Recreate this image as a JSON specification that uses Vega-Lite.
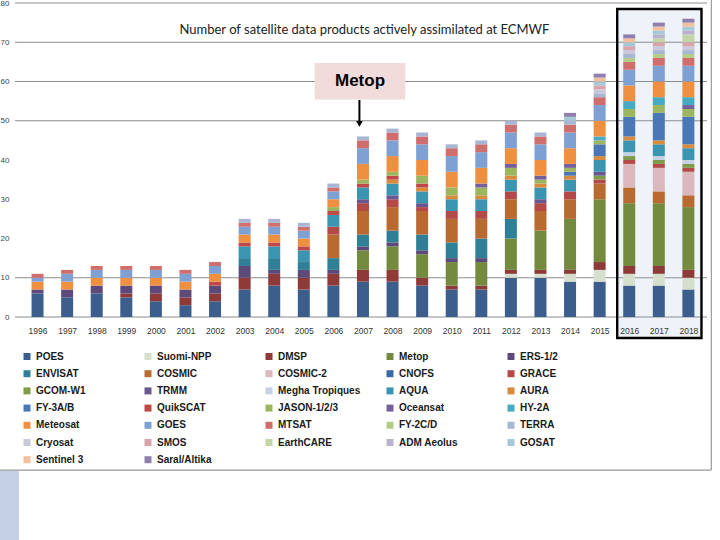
{
  "$schema": "https://vega.github.io/schema/vega-lite/v6.json",
  "width": 692,
  "height": 314,
  "autosize": {"type": "none"},
  "padding": {"left": 15, "top": 3, "right": 13, "bottom": 223},
  "background": "white",
  "config": {
    "view": {"stroke": null},
    "font": "Liberation Sans",
    "axisX": {"grid": false, "ticks": false, "domain": false, "labelPadding": 9, "labelFontSize": 8.5, "labelColor": "#333333", "labelOverlap": false, "labelFlush": false, "zindex": 2, "title": null},
    "axisY": {"grid": false, "ticks": false, "domain": false, "labelPadding": 6, "labelFontSize": 8, "labelColor": "#444444", "zindex": 2, "title": null}
  },
  "datasets": {
    "counts": [
      {"year":1996,"sat":"POES","n":6},{"year":1996,"sat":"ERS-1/2","n":1},{"year":1996,"sat":"Meteosat","n":2},{"year":1996,"sat":"GOES","n":1},{"year":1996,"sat":"MTSAT","n":1},
      {"year":1997,"sat":"POES","n":5},{"year":1997,"sat":"ERS-1/2","n":2},{"year":1997,"sat":"Meteosat","n":2},{"year":1997,"sat":"GOES","n":2},{"year":1997,"sat":"MTSAT","n":1},
      {"year":1998,"sat":"POES","n":6},{"year":1998,"sat":"ERS-1/2","n":2},{"year":1998,"sat":"Meteosat","n":2},{"year":1998,"sat":"GOES","n":2},{"year":1998,"sat":"MTSAT","n":1},
      {"year":1999,"sat":"POES","n":5},{"year":1999,"sat":"DMSP","n":1},{"year":1999,"sat":"ERS-1/2","n":2},{"year":1999,"sat":"Meteosat","n":2},{"year":1999,"sat":"GOES","n":2},{"year":1999,"sat":"MTSAT","n":1},
      {"year":2000,"sat":"POES","n":4},{"year":2000,"sat":"DMSP","n":2},{"year":2000,"sat":"ERS-1/2","n":2},{"year":2000,"sat":"Meteosat","n":2},{"year":2000,"sat":"GOES","n":2},{"year":2000,"sat":"MTSAT","n":1},
      {"year":2001,"sat":"POES","n":3},{"year":2001,"sat":"DMSP","n":2},{"year":2001,"sat":"ERS-1/2","n":2},{"year":2001,"sat":"Meteosat","n":2},{"year":2001,"sat":"GOES","n":2},{"year":2001,"sat":"MTSAT","n":1},
      {"year":2002,"sat":"POES","n":4},{"year":2002,"sat":"DMSP","n":2},{"year":2002,"sat":"ERS-1/2","n":2},{"year":2002,"sat":"QuikSCAT","n":1},{"year":2002,"sat":"Meteosat","n":2},{"year":2002,"sat":"GOES","n":2},{"year":2002,"sat":"MTSAT","n":1},
      {"year":2003,"sat":"POES","n":7},{"year":2003,"sat":"DMSP","n":3},{"year":2003,"sat":"ERS-1/2","n":3},{"year":2003,"sat":"ENVISAT","n":2},{"year":2003,"sat":"AQUA","n":3},{"year":2003,"sat":"QuikSCAT","n":1},{"year":2003,"sat":"Meteosat","n":2},{"year":2003,"sat":"GOES","n":2},{"year":2003,"sat":"MTSAT","n":1},{"year":2003,"sat":"TERRA","n":1},
      {"year":2004,"sat":"POES","n":8},{"year":2004,"sat":"DMSP","n":3},{"year":2004,"sat":"ERS-1/2","n":1},{"year":2004,"sat":"ENVISAT","n":3},{"year":2004,"sat":"AQUA","n":3},{"year":2004,"sat":"QuikSCAT","n":1},{"year":2004,"sat":"Meteosat","n":2},{"year":2004,"sat":"GOES","n":2},{"year":2004,"sat":"MTSAT","n":1},{"year":2004,"sat":"TERRA","n":1},
      {"year":2005,"sat":"POES","n":7},{"year":2005,"sat":"DMSP","n":3},{"year":2005,"sat":"ERS-1/2","n":2},{"year":2005,"sat":"ENVISAT","n":2},{"year":2005,"sat":"AQUA","n":3},{"year":2005,"sat":"QuikSCAT","n":1},{"year":2005,"sat":"Meteosat","n":2},{"year":2005,"sat":"GOES","n":2},{"year":2005,"sat":"MTSAT","n":1},{"year":2005,"sat":"TERRA","n":1},
      {"year":2006,"sat":"POES","n":8},{"year":2006,"sat":"DMSP","n":3},{"year":2006,"sat":"ERS-1/2","n":1},{"year":2006,"sat":"ENVISAT","n":3},{"year":2006,"sat":"COSMIC","n":6},{"year":2006,"sat":"GRACE","n":2},{"year":2006,"sat":"AQUA","n":3},{"year":2006,"sat":"QuikSCAT","n":1},{"year":2006,"sat":"JASON-1/2/3","n":1},{"year":2006,"sat":"Meteosat","n":2},{"year":2006,"sat":"GOES","n":2},{"year":2006,"sat":"MTSAT","n":1},{"year":2006,"sat":"TERRA","n":1},
      {"year":2007,"sat":"POES","n":9},{"year":2007,"sat":"DMSP","n":3},{"year":2007,"sat":"Metop","n":5},{"year":2007,"sat":"ERS-1/2","n":1},{"year":2007,"sat":"ENVISAT","n":3},{"year":2007,"sat":"COSMIC","n":6},{"year":2007,"sat":"GRACE","n":2},{"year":2007,"sat":"TRMM","n":1},{"year":2007,"sat":"AQUA","n":3},{"year":2007,"sat":"QuikSCAT","n":1},{"year":2007,"sat":"JASON-1/2/3","n":1},{"year":2007,"sat":"Meteosat","n":4},{"year":2007,"sat":"GOES","n":4},{"year":2007,"sat":"MTSAT","n":2},{"year":2007,"sat":"TERRA","n":1},
      {"year":2008,"sat":"POES","n":9},{"year":2008,"sat":"DMSP","n":3},{"year":2008,"sat":"Metop","n":6},{"year":2008,"sat":"ERS-1/2","n":1},{"year":2008,"sat":"ENVISAT","n":3},{"year":2008,"sat":"COSMIC","n":6},{"year":2008,"sat":"GRACE","n":2},{"year":2008,"sat":"TRMM","n":1},{"year":2008,"sat":"AQUA","n":3},{"year":2008,"sat":"AURA","n":1},{"year":2008,"sat":"QuikSCAT","n":1},{"year":2008,"sat":"JASON-1/2/3","n":1},{"year":2008,"sat":"Meteosat","n":4},{"year":2008,"sat":"GOES","n":4},{"year":2008,"sat":"MTSAT","n":2},{"year":2008,"sat":"TERRA","n":1},
      {"year":2009,"sat":"POES","n":8},{"year":2009,"sat":"DMSP","n":2},{"year":2009,"sat":"Metop","n":6},{"year":2009,"sat":"ERS-1/2","n":1},{"year":2009,"sat":"ENVISAT","n":4},{"year":2009,"sat":"COSMIC","n":6},{"year":2009,"sat":"GRACE","n":1},{"year":2009,"sat":"TRMM","n":1},{"year":2009,"sat":"AQUA","n":3},{"year":2009,"sat":"AURA","n":1},{"year":2009,"sat":"QuikSCAT","n":1},{"year":2009,"sat":"JASON-1/2/3","n":2},{"year":2009,"sat":"Meteosat","n":4},{"year":2009,"sat":"GOES","n":4},{"year":2009,"sat":"MTSAT","n":2},{"year":2009,"sat":"TERRA","n":1},
      {"year":2010,"sat":"POES","n":7},{"year":2010,"sat":"DMSP","n":1},{"year":2010,"sat":"Metop","n":6},{"year":2010,"sat":"ERS-1/2","n":1},{"year":2010,"sat":"ENVISAT","n":4},{"year":2010,"sat":"COSMIC","n":6},{"year":2010,"sat":"GRACE","n":2},{"year":2010,"sat":"AQUA","n":3},{"year":2010,"sat":"AURA","n":1},{"year":2010,"sat":"JASON-1/2/3","n":2},{"year":2010,"sat":"Meteosat","n":4},{"year":2010,"sat":"GOES","n":4},{"year":2010,"sat":"MTSAT","n":2},{"year":2010,"sat":"TERRA","n":1},
      {"year":2011,"sat":"POES","n":7},{"year":2011,"sat":"DMSP","n":1},{"year":2011,"sat":"Metop","n":6},{"year":2011,"sat":"ERS-1/2","n":1},{"year":2011,"sat":"ENVISAT","n":5},{"year":2011,"sat":"COSMIC","n":5},{"year":2011,"sat":"GRACE","n":2},{"year":2011,"sat":"AQUA","n":3},{"year":2011,"sat":"AURA","n":1},{"year":2011,"sat":"JASON-1/2/3","n":2},{"year":2011,"sat":"Oceansat","n":1},{"year":2011,"sat":"Meteosat","n":4},{"year":2011,"sat":"GOES","n":4},{"year":2011,"sat":"MTSAT","n":2},{"year":2011,"sat":"TERRA","n":1},
      {"year":2012,"sat":"POES","n":10},{"year":2012,"sat":"Suomi-NPP","n":1},{"year":2012,"sat":"DMSP","n":1},{"year":2012,"sat":"Metop","n":8},{"year":2012,"sat":"ENVISAT","n":5},{"year":2012,"sat":"COSMIC","n":5},{"year":2012,"sat":"GRACE","n":2},{"year":2012,"sat":"AQUA","n":3},{"year":2012,"sat":"AURA","n":1},{"year":2012,"sat":"JASON-1/2/3","n":2},{"year":2012,"sat":"Oceansat","n":1},{"year":2012,"sat":"Meteosat","n":4},{"year":2012,"sat":"GOES","n":4},{"year":2012,"sat":"MTSAT","n":2},{"year":2012,"sat":"TERRA","n":1},
      {"year":2013,"sat":"POES","n":10},{"year":2013,"sat":"Suomi-NPP","n":1},{"year":2013,"sat":"DMSP","n":1},{"year":2013,"sat":"Metop","n":10},{"year":2013,"sat":"COSMIC","n":5},{"year":2013,"sat":"GRACE","n":2},{"year":2013,"sat":"TRMM","n":1},{"year":2013,"sat":"AQUA","n":3},{"year":2013,"sat":"AURA","n":1},{"year":2013,"sat":"JASON-1/2/3","n":1},{"year":2013,"sat":"Oceansat","n":1},{"year":2013,"sat":"Meteosat","n":4},{"year":2013,"sat":"GOES","n":4},{"year":2013,"sat":"MTSAT","n":2},{"year":2013,"sat":"TERRA","n":1},
      {"year":2014,"sat":"POES","n":9},{"year":2014,"sat":"Suomi-NPP","n":2},{"year":2014,"sat":"DMSP","n":1},{"year":2014,"sat":"Metop","n":13},{"year":2014,"sat":"COSMIC","n":5},{"year":2014,"sat":"GRACE","n":2},{"year":2014,"sat":"AQUA","n":3},{"year":2014,"sat":"AURA","n":1},{"year":2014,"sat":"FY-3A/B","n":1},{"year":2014,"sat":"JASON-1/2/3","n":1},{"year":2014,"sat":"Oceansat","n":1},{"year":2014,"sat":"Meteosat","n":4},{"year":2014,"sat":"GOES","n":4},{"year":2014,"sat":"MTSAT","n":2},{"year":2014,"sat":"TERRA","n":1},{"year":2014,"sat":"GOSAT","n":1},{"year":2014,"sat":"Saral/Altika","n":1},
      {"year":2015,"sat":"POES","n":9},{"year":2015,"sat":"Suomi-NPP","n":3},{"year":2015,"sat":"DMSP","n":2},{"year":2015,"sat":"Metop","n":16},{"year":2015,"sat":"COSMIC","n":4},{"year":2015,"sat":"GRACE","n":1},{"year":2015,"sat":"GCOM-W1","n":1},{"year":2015,"sat":"TRMM","n":1},{"year":2015,"sat":"AQUA","n":3},{"year":2015,"sat":"AURA","n":1},{"year":2015,"sat":"FY-3A/B","n":3},{"year":2015,"sat":"JASON-1/2/3","n":1},{"year":2015,"sat":"HY-2A","n":1},{"year":2015,"sat":"Meteosat","n":4},{"year":2015,"sat":"GOES","n":4},{"year":2015,"sat":"MTSAT","n":2},{"year":2015,"sat":"TERRA","n":1},{"year":2015,"sat":"Cryosat","n":1},{"year":2015,"sat":"SMOS","n":1},{"year":2015,"sat":"GOSAT","n":1},{"year":2015,"sat":"Sentinel 3","n":1},{"year":2015,"sat":"Saral/Altika","n":1},
      {"year":2016,"sat":"POES","n":8},{"year":2016,"sat":"Suomi-NPP","n":3},{"year":2016,"sat":"DMSP","n":2},{"year":2016,"sat":"Metop","n":16},{"year":2016,"sat":"COSMIC","n":4},{"year":2016,"sat":"COSMIC-2","n":6},{"year":2016,"sat":"GRACE","n":1},{"year":2016,"sat":"GCOM-W1","n":1},{"year":2016,"sat":"Megha Tropiques","n":1},{"year":2016,"sat":"AQUA","n":3},{"year":2016,"sat":"AURA","n":1},{"year":2016,"sat":"FY-3A/B","n":5},{"year":2016,"sat":"JASON-1/2/3","n":2},{"year":2016,"sat":"HY-2A","n":2},{"year":2016,"sat":"Meteosat","n":4},{"year":2016,"sat":"GOES","n":4},{"year":2016,"sat":"MTSAT","n":2},{"year":2016,"sat":"FY-2C/D","n":1},{"year":2016,"sat":"TERRA","n":1},{"year":2016,"sat":"Cryosat","n":1},{"year":2016,"sat":"SMOS","n":1},{"year":2016,"sat":"GOSAT","n":1},{"year":2016,"sat":"Sentinel 3","n":1},{"year":2016,"sat":"Saral/Altika","n":1},
      {"year":2017,"sat":"POES","n":8},{"year":2017,"sat":"Suomi-NPP","n":3},{"year":2017,"sat":"DMSP","n":2},{"year":2017,"sat":"Metop","n":16},{"year":2017,"sat":"COSMIC","n":3},{"year":2017,"sat":"COSMIC-2","n":6},{"year":2017,"sat":"GRACE","n":1},{"year":2017,"sat":"GCOM-W1","n":1},{"year":2017,"sat":"Megha Tropiques","n":1},{"year":2017,"sat":"AQUA","n":3},{"year":2017,"sat":"AURA","n":1},{"year":2017,"sat":"FY-3A/B","n":7},{"year":2017,"sat":"JASON-1/2/3","n":2},{"year":2017,"sat":"HY-2A","n":2},{"year":2017,"sat":"Meteosat","n":4},{"year":2017,"sat":"GOES","n":4},{"year":2017,"sat":"MTSAT","n":2},{"year":2017,"sat":"FY-2C/D","n":1},{"year":2017,"sat":"TERRA","n":1},{"year":2017,"sat":"Cryosat","n":1},{"year":2017,"sat":"SMOS","n":1},{"year":2017,"sat":"EarthCARE","n":1},{"year":2017,"sat":"ADM Aeolus","n":1},{"year":2017,"sat":"GOSAT","n":1},{"year":2017,"sat":"Sentinel 3","n":1},{"year":2017,"sat":"Saral/Altika","n":1},
      {"year":2018,"sat":"POES","n":7},{"year":2018,"sat":"Suomi-NPP","n":3},{"year":2018,"sat":"DMSP","n":2},{"year":2018,"sat":"Metop","n":16},{"year":2018,"sat":"COSMIC","n":3},{"year":2018,"sat":"COSMIC-2","n":6},{"year":2018,"sat":"GRACE","n":1},{"year":2018,"sat":"GCOM-W1","n":1},{"year":2018,"sat":"Megha Tropiques","n":1},{"year":2018,"sat":"AQUA","n":3},{"year":2018,"sat":"AURA","n":1},{"year":2018,"sat":"FY-3A/B","n":7},{"year":2018,"sat":"JASON-1/2/3","n":2},{"year":2018,"sat":"Oceansat","n":1},{"year":2018,"sat":"HY-2A","n":2},{"year":2018,"sat":"Meteosat","n":4},{"year":2018,"sat":"GOES","n":4},{"year":2018,"sat":"MTSAT","n":2},{"year":2018,"sat":"FY-2C/D","n":1},{"year":2018,"sat":"TERRA","n":1},{"year":2018,"sat":"Cryosat","n":1},{"year":2018,"sat":"SMOS","n":1},{"year":2018,"sat":"EarthCARE","n":2},{"year":2018,"sat":"ADM Aeolus","n":1},{"year":2018,"sat":"GOSAT","n":1},{"year":2018,"sat":"Sentinel 3","n":1},{"year":2018,"sat":"Saral/Altika","n":1}
    ]
  },
  "layer": [
    {
      "data": {"values": [{"x1": 1994.0, "x2": 1995.37, "y1": -39.2, "y2": -62}]},
      "mark": {"type": "rect", "fill": "#c6d0e4", "clip": false},
      "encoding": {
        "x": {"field": "x1", "type": "quantitative", "title": null, "scale": {"domain": [1995.407, 2018.46], "nice": false, "zero": false}, "axis": {"values": [1996,1997,1998,1999,2000,2001,2002,2003,2004,2005,2006,2007,2008,2009,2010,2011,2012,2013,2014,2015,2016,2017,2018], "format": "d", "zindex": 2}},
        "x2": {"field": "x2"},
        "y": {"field": "y1", "type": "quantitative", "title": null, "scale": {"domain": [0, 80], "nice": false}, "axis": {"values": [0,10,20,30,40,50,60,70,80], "zindex": 2}},
        "y2": {"field": "y2"}
      }
    },
    {
      "data": {"values": [{"x1": 1994.0, "x2": 2018.775, "y": -38.99}]},
      "mark": {"type": "rule", "stroke": "#9a9a9a", "strokeWidth": 1.2, "clip": false},
      "encoding": {
        "x": {"field": "x1", "type": "quantitative", "title": null, "axis": {"values": [1996,1997,1998,1999,2000,2001,2002,2003,2004,2005,2006,2007,2008,2009,2010,2011,2012,2013,2014,2015,2016,2017,2018], "format": "d", "zindex": 2}},
        "x2": {"field": "x2"},
        "y": {"field": "y", "type": "quantitative", "title": null, "axis": {"values": [0,10,20,30,40,50,60,70,80], "zindex": 2}}
      }
    },
    {
      "data": {"values": [{"x": 2018.775, "y1": -38.99, "y2": 84}]},
      "mark": {"type": "rule", "stroke": "#9a9a9a", "strokeWidth": 1.2, "clip": false},
      "encoding": {
        "x": {"field": "x", "type": "quantitative", "title": null, "axis": {"values": [1996,1997,1998,1999,2000,2001,2002,2003,2004,2005,2006,2007,2008,2009,2010,2011,2012,2013,2014,2015,2016,2017,2018], "format": "d", "zindex": 2}},
        "y": {"field": "y1", "type": "quantitative", "title": null, "axis": {"values": [0,10,20,30,40,50,60,70,80], "zindex": 2}},
        "y2": {"field": "y2"}
      }
    },
    {
      "data": {"values": [{"x1": 2015.594, "x2": 2018.442, "y1": -5.35, "y2": 78.47}]},
      "mark": {"type": "rect", "fill": "#eef3f9", "clip": false},
      "encoding": {
        "x": {"field": "x1", "type": "quantitative", "title": null, "axis": {"values": [1996,1997,1998,1999,2000,2001,2002,2003,2004,2005,2006,2007,2008,2009,2010,2011,2012,2013,2014,2015,2016,2017,2018], "format": "d", "zindex": 2}},
        "x2": {"field": "x2"},
        "y": {"field": "y1", "type": "quantitative", "title": null, "axis": {"values": [0,10,20,30,40,50,60,70,80], "zindex": 2}},
        "y2": {"field": "y2"}
      }
    },
    {
      "data": {"values": [{"g": 0}, {"g": 10}, {"g": 50}, {"g": 60}, {"g": 70}, {"g": 80}]},
      "mark": {"type": "rule", "color": "#8c8c8c", "strokeWidth": 1, "clip": false},
      "encoding": {
        "y": {"field": "g", "type": "quantitative", "title": null, "axis": {"values": [0,10,20,30,40,50,60,70,80], "zindex": 2}}
      }
    },
    {
      "data": {"name": "counts"},
      "transform": [
        {"calculate": "indexof(['POES','Suomi-NPP','DMSP','Metop','ERS-1/2','ENVISAT','COSMIC','COSMIC-2','CNOFS','GRACE','GCOM-W1','TRMM','Megha Tropiques','AQUA','AURA','FY-3A/B','QuikSCAT','JASON-1/2/3','Oceansat','HY-2A','Meteosat','GOES','MTSAT','FY-2C/D','TERRA','Cryosat','SMOS','EarthCARE','ADM Aeolus','GOSAT','Sentinel 3','Saral/Altika'], datum.sat)", "as": "k"}
      ],
      "mark": {"type": "bar", "size": 12},
      "encoding": {
        "x": {"field": "year", "type": "quantitative", "title": null, "axis": {"values": [1996,1997,1998,1999,2000,2001,2002,2003,2004,2005,2006,2007,2008,2009,2010,2011,2012,2013,2014,2015,2016,2017,2018], "format": "d", "zindex": 2}},
        "y": {"field": "n", "type": "quantitative", "stack": "zero", "title": null, "axis": {"values": [0,10,20,30,40,50,60,70,80], "zindex": 2}},
        "color": {
          "field": "sat", "type": "nominal",
          "scale": {
            "domain": ["POES","Suomi-NPP","DMSP","Metop","ERS-1/2","ENVISAT","COSMIC","COSMIC-2","CNOFS","GRACE","GCOM-W1","TRMM","Megha Tropiques","AQUA","AURA","FY-3A/B","QuikSCAT","JASON-1/2/3","Oceansat","HY-2A","Meteosat","GOES","MTSAT","FY-2C/D","TERRA","Cryosat","SMOS","EarthCARE","ADM Aeolus","GOSAT","Sentinel 3","Saral/Altika"],
            "range": ["#3b5e8d","#d6dfcb","#8e3a38","#748b3f","#5e4a7a","#2f8096","#b86a30","#dbb8bd","#3b69a6","#b44a48","#7f9a48","#6a5690","#c6d1e3","#3b95b0","#d98a3c","#4a78b6","#c04849","#9bb65e","#75609a","#47a9c4","#ef9040","#7ea0d2","#cf6e6d","#b5cd8a","#a8b6d3","#c9c9db","#d8a3aa","#c3d5a6","#b9b1cd","#a6c9d9","#f3c09e","#8f7fae"]
          },
          "legend": {"title": null, "orient": "none", "legendX": 7, "legendY": 348.5, "direction": "horizontal", "columns": 5, "gridAlign": "all", "symbolLimit": 50, "symbolType": "square", "symbolSize": 49, "symbolStrokeWidth": 0, "symbolOpacity": 1, "labelFont": "Liberation Sans", "labelFontWeight": "bold", "labelFontSize": 10, "labelColor": "#1a1a1a", "labelOffset": 4, "labelLimit": 200, "columnPadding": 24, "rowPadding": 7.2, "padding": 0}
        },
        "order": {"field": "k", "type": "quantitative", "sort": "ascending"}
      }
    },
    {
      "data": {"values": [{"x1": 2015.594, "x2": 2018.442, "y1": -5.35, "y2": 78.47}]},
      "mark": {"type": "rect", "fill": null, "fillOpacity": 0, "stroke": "#000000", "strokeWidth": 2.4, "clip": false},
      "encoding": {
        "x": {"field": "x1", "type": "quantitative", "title": null, "axis": {"values": [1996,1997,1998,1999,2000,2001,2002,2003,2004,2005,2006,2007,2008,2009,2010,2011,2012,2013,2014,2015,2016,2017,2018], "format": "d", "zindex": 2}},
        "x2": {"field": "x2"},
        "y": {"field": "y1", "type": "quantitative", "title": null, "axis": {"values": [0,10,20,30,40,50,60,70,80], "zindex": 2}},
        "y2": {"field": "y2"}
      }
    },
    {
      "data": {"values": [{"x1": 2005.367, "x2": 2008.432, "y1": 55.43, "y2": 64.73}]},
      "mark": {"type": "rect", "fill": "#f2dcdb"},
      "encoding": {
        "x": {"field": "x1", "type": "quantitative", "title": null, "axis": {"values": [1996,1997,1998,1999,2000,2001,2002,2003,2004,2005,2006,2007,2008,2009,2010,2011,2012,2013,2014,2015,2016,2017,2018], "format": "d", "zindex": 2}},
        "x2": {"field": "x2"},
        "y": {"field": "y1", "type": "quantitative", "title": null, "axis": {"values": [0,10,20,30,40,50,60,70,80], "zindex": 2}},
        "y2": {"field": "y2"}
      }
    },
    {
      "data": {"values": [{"x": 2006.9, "y": 60.2, "t": "Metop"}]},
      "mark": {"type": "text", "font": "Liberation Sans", "fontWeight": "bold", "fontSize": 17, "color": "#000000", "align": "center", "baseline": "middle"},
      "encoding": {
        "x": {"field": "x", "type": "quantitative", "title": null, "axis": {"values": [1996,1997,1998,1999,2000,2001,2002,2003,2004,2005,2006,2007,2008,2009,2010,2011,2012,2013,2014,2015,2016,2017,2018], "format": "d", "zindex": 2}},
        "y": {"field": "y", "type": "quantitative", "title": null, "axis": {"values": [0,10,20,30,40,50,60,70,80], "zindex": 2}},
        "text": {"field": "t"}
      }
    },
    {
      "data": {"values": [{"x": 2006.88, "y1": 55.3, "y2": 49.9}]},
      "mark": {"type": "rule", "color": "#000000", "strokeWidth": 2},
      "encoding": {
        "x": {"field": "x", "type": "quantitative", "title": null, "axis": {"values": [1996,1997,1998,1999,2000,2001,2002,2003,2004,2005,2006,2007,2008,2009,2010,2011,2012,2013,2014,2015,2016,2017,2018], "format": "d", "zindex": 2}},
        "y": {"field": "y1", "type": "quantitative", "title": null, "axis": {"values": [0,10,20,30,40,50,60,70,80], "zindex": 2}},
        "y2": {"field": "y2"}
      }
    },
    {
      "data": {"values": [{"x": 2006.88, "y": 49.2}]},
      "mark": {"type": "point", "shape": "triangle-down", "filled": true, "color": "#000000", "size": 45, "opacity": 1},
      "encoding": {
        "x": {"field": "x", "type": "quantitative", "title": null, "axis": {"values": [1996,1997,1998,1999,2000,2001,2002,2003,2004,2005,2006,2007,2008,2009,2010,2011,2012,2013,2014,2015,2016,2017,2018], "format": "d", "zindex": 2}},
        "y": {"field": "y", "type": "quantitative", "title": null, "axis": {"values": [0,10,20,30,40,50,60,70,80], "zindex": 2}}
      }
    },
    {
      "data": {"values": [{"x": 2007.05, "y": 73.1, "t": "Number of satellite data products actively assimilated at ECMWF"}]},
      "mark": {"type": "text", "font": "Lato", "fontSize": 13, "color": "#222222", "align": "center", "baseline": "middle"},
      "encoding": {
        "x": {"field": "x", "type": "quantitative", "title": null, "axis": {"values": [1996,1997,1998,1999,2000,2001,2002,2003,2004,2005,2006,2007,2008,2009,2010,2011,2012,2013,2014,2015,2016,2017,2018], "format": "d", "zindex": 2}},
        "y": {"field": "y", "type": "quantitative", "title": null, "axis": {"values": [0,10,20,30,40,50,60,70,80], "zindex": 2}},
        "text": {"field": "t"}
      }
    }
  ]
}
